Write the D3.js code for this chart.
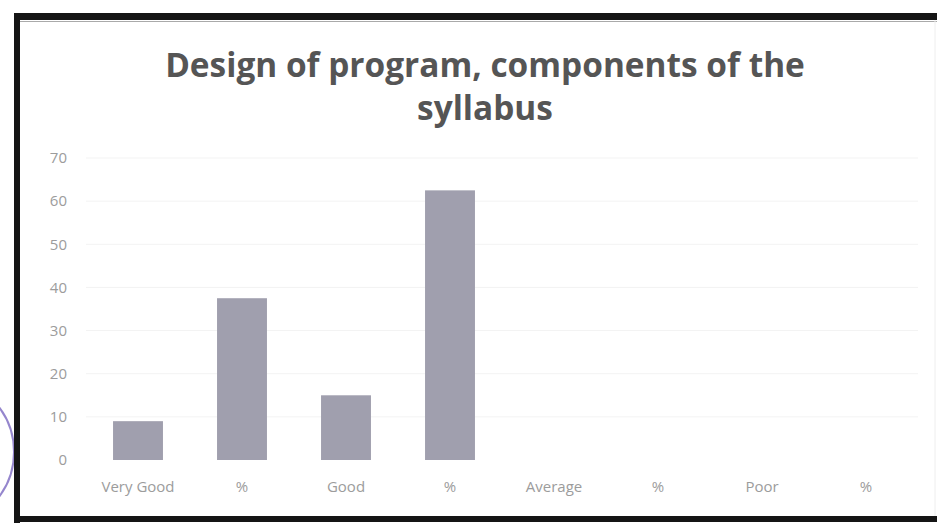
<!DOCTYPE html>
<html>
<head>
<meta charset="utf-8">
<script src="https://cdn.jsdelivr.net/npm/d3@7"></script>
<style>
  html, body { margin: 0; padding: 0; background: #fff; }
  svg { display: block; }
</style>
</head>
<body>
<svg id="chart" width="937" height="526"></svg>
<script>
const titleLines = ["Design of program, components of the", "syllabus"];
const categories = ["Very Good", "%", "Good", "%", "Average", "%", "Poor", "%"];
const values = [9, 37.5, 15, 62.5, 0, 0, 0, 0];
const yTicks = [0, 10, 20, 30, 40, 50, 60, 70];

const svg = d3.select("#chart");
const W = 937, H = 526;

svg.append("rect").attr("width", W).attr("height", H).attr("fill", "#fff");

// stamp arc at far left (outside frame)
svg.append("circle")
  .attr("cx", -60).attr("cy", 452).attr("r", 74)
  .attr("fill", "none").attr("stroke", "#7a68c0").attr("stroke-width", 2).attr("opacity", 0.8);

const x = d3.scaleBand().domain(d3.range(categories.length)).range([86, 918])
  .paddingInner(0.52).paddingOuter(0.26);
const y = d3.scaleLinear().domain([0, 70]).range([460, 158]);

// gridlines
svg.append("g").selectAll("line").data(yTicks.slice(1)).join("line")
  .attr("x1", 86).attr("x2", 918)
  .attr("y1", d => y(d)).attr("y2", d => y(d))
  .attr("stroke", "#f3f3f3").attr("stroke-width", 1);

// y axis labels
const yAxis = d3.axisLeft(y).tickValues(yTicks).tickSize(0).tickPadding(0);
const gy = svg.append("g").attr("transform", "translate(67,0)").call(yAxis);
gy.select(".domain").remove();
gy.selectAll("text").attr("font-family", "'Open Sans', sans-serif")
  .attr("font-size", 15).attr("fill", "#9c9c9c");

// x axis labels
const xAxis = d3.axisBottom(x).tickFormat(i => categories[i]).tickSize(0).tickPadding(0);
const gx = svg.append("g").attr("transform", "translate(0,481)").call(xAxis);
gx.select(".domain").remove();
gx.selectAll("text").attr("font-family", "'Open Sans', sans-serif")
  .attr("font-size", 15).attr("fill", "#9c9c9c");

// bars
svg.append("g").selectAll("rect").data(values).join("rect")
  .attr("x", (d, i) => x(i))
  .attr("width", x.bandwidth())
  .attr("y", d => y(d))
  .attr("height", d => y(0) - y(d))
  .attr("fill", "#a09fae");

// title
const title = svg.append("g");
titleLines.forEach((t, i) => {
  title.append("text")
    .attr("x", 485).attr("y", 77 + i * 43)
    .attr("text-anchor", "middle")
    .attr("font-family", "'Open Sans', sans-serif")
    .attr("font-weight", 700)
    .attr("font-size", 29)
    .attr("fill", "#555")
    .text(t);
});
const first = title.select("text").node();
const w = first.getComputedTextLength();
title.selectAll("text").attr("font-size", 29 * 640 / w);

// frame
svg.append("rect").attr("x", 14).attr("y", 13).attr("width", W - 14).attr("height", 7).attr("fill", "#151515");
svg.append("rect").attr("x", 14).attr("y", 13).attr("width", 6).attr("height", 510).attr("fill", "#151515");
svg.append("rect").attr("x", 14).attr("y", 516).attr("width", W - 14).attr("height", 6).attr("fill", "#151515");
svg.append("line").attr("x1", 20).attr("x2", W).attr("y1", 21.5).attr("y2", 21.5).attr("stroke", "#aaa").attr("stroke-width", 1);
svg.append("line").attr("x1", 935).attr("x2", 935).attr("y1", 20).attr("y2", 516).attr("stroke", "#eee").attr("stroke-width", 1);
</script>
</body>
</html>
